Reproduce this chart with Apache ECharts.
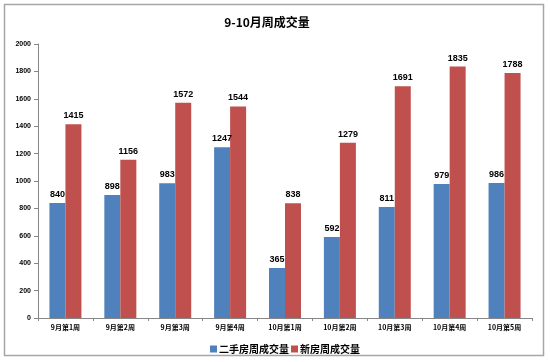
<!DOCTYPE html>
<html><head><meta charset="utf-8">
<script src="https://cdn.jsdelivr.net/npm/echarts@6/dist/echarts.min.js"></script>
<style>html,body{margin:0;padding:0;background:#fff}#c{width:550px;height:362px}</style>
</head><body><div id="c"></div>
<script>
const categories = ['9月第1周','9月第2周','9月第3周','9月第4周','10月第1周','10月第2周','10月第3周','10月第4周','10月第5周'];
const secondHand = [840, 898, 983, 1247, 365, 592, 811, 979, 986];
const newHouse = [1415, 1156, 1572, 1544, 838, 1279, 1691, 1835, 1788];
const seriesNames = ['二手房周成交量','新房周成交量'];
const yTicks = [0, 200, 400, 600, 800, 1000, 1200, 1400, 1600, 1800, 2000];

const chart = echarts.init(document.getElementById('c'));
const font = '"Noto Sans CJK SC", sans-serif';
const lbl = {show: true, position: 'top', fontSize: 9, fontWeight: 'bold', color: '#000', fontFamily: 'Liberation Sans Narrow, Liberation Sans, sans-serif', distance: 4};
chart.setOption({
  animation: false,
  graphic: [{type: 'rect', shape: {x: 4.5, y: 4.5, width: 539, height: 351}, style: {fill: 'none', stroke: '#a6a6a6', lineWidth: 1.5}}],
  title: {text: '9-10月周成交量', left: 262, top: 11, textAlign: 'center',
    textStyle: {fontSize: 12, fontWeight: 'bold', color: '#000', fontFamily: font}},
  legend: {data: seriesNames, left: 205, top: 339, itemWidth: 7, itemHeight: 7, itemGap: 2,
    icon: 'rect', textStyle: {fontSize: 10, fontWeight: 'bold', color: '#000', fontFamily: font, padding: [0, 0, 0, -3]}},
  grid: {left: 38, right: 18, top: 44, bottom: 44},
  xAxis: {type: 'category', data: categories,
    axisLine: {lineStyle: {color: '#868686'}},
    axisTick: {show: true, length: 3, lineStyle: {color: '#868686'}},
    axisLabel: {fontSize: 7, fontWeight: 'bold', color: '#000', fontFamily: font, margin: 6, interval: 0}},
  yAxis: {type: 'value', min: yTicks[0], max: yTicks[yTicks.length - 1], interval: 200,
    axisLine: {show: true, lineStyle: {color: '#868686'}},
    axisTick: {show: true, length: 4, lineStyle: {color: '#868686'}},
    splitLine: {show: false},
    axisLabel: {fontSize: 7, fontWeight: 'bold', color: '#000', margin: 7, fontFamily: 'Liberation Sans, sans-serif',
      formatter: v => String(v)}},
  series: [
    {name: seriesNames[0], type: 'bar', data: secondHand, barWidth: 16, barGap: '0%',
      itemStyle: {color: '#4F81BD'}, label: lbl},
    {name: seriesNames[1], type: 'bar', data: newHouse, barWidth: 16,
      itemStyle: {color: '#C0504D'}, label: lbl}
  ]
});
</script></body></html>
